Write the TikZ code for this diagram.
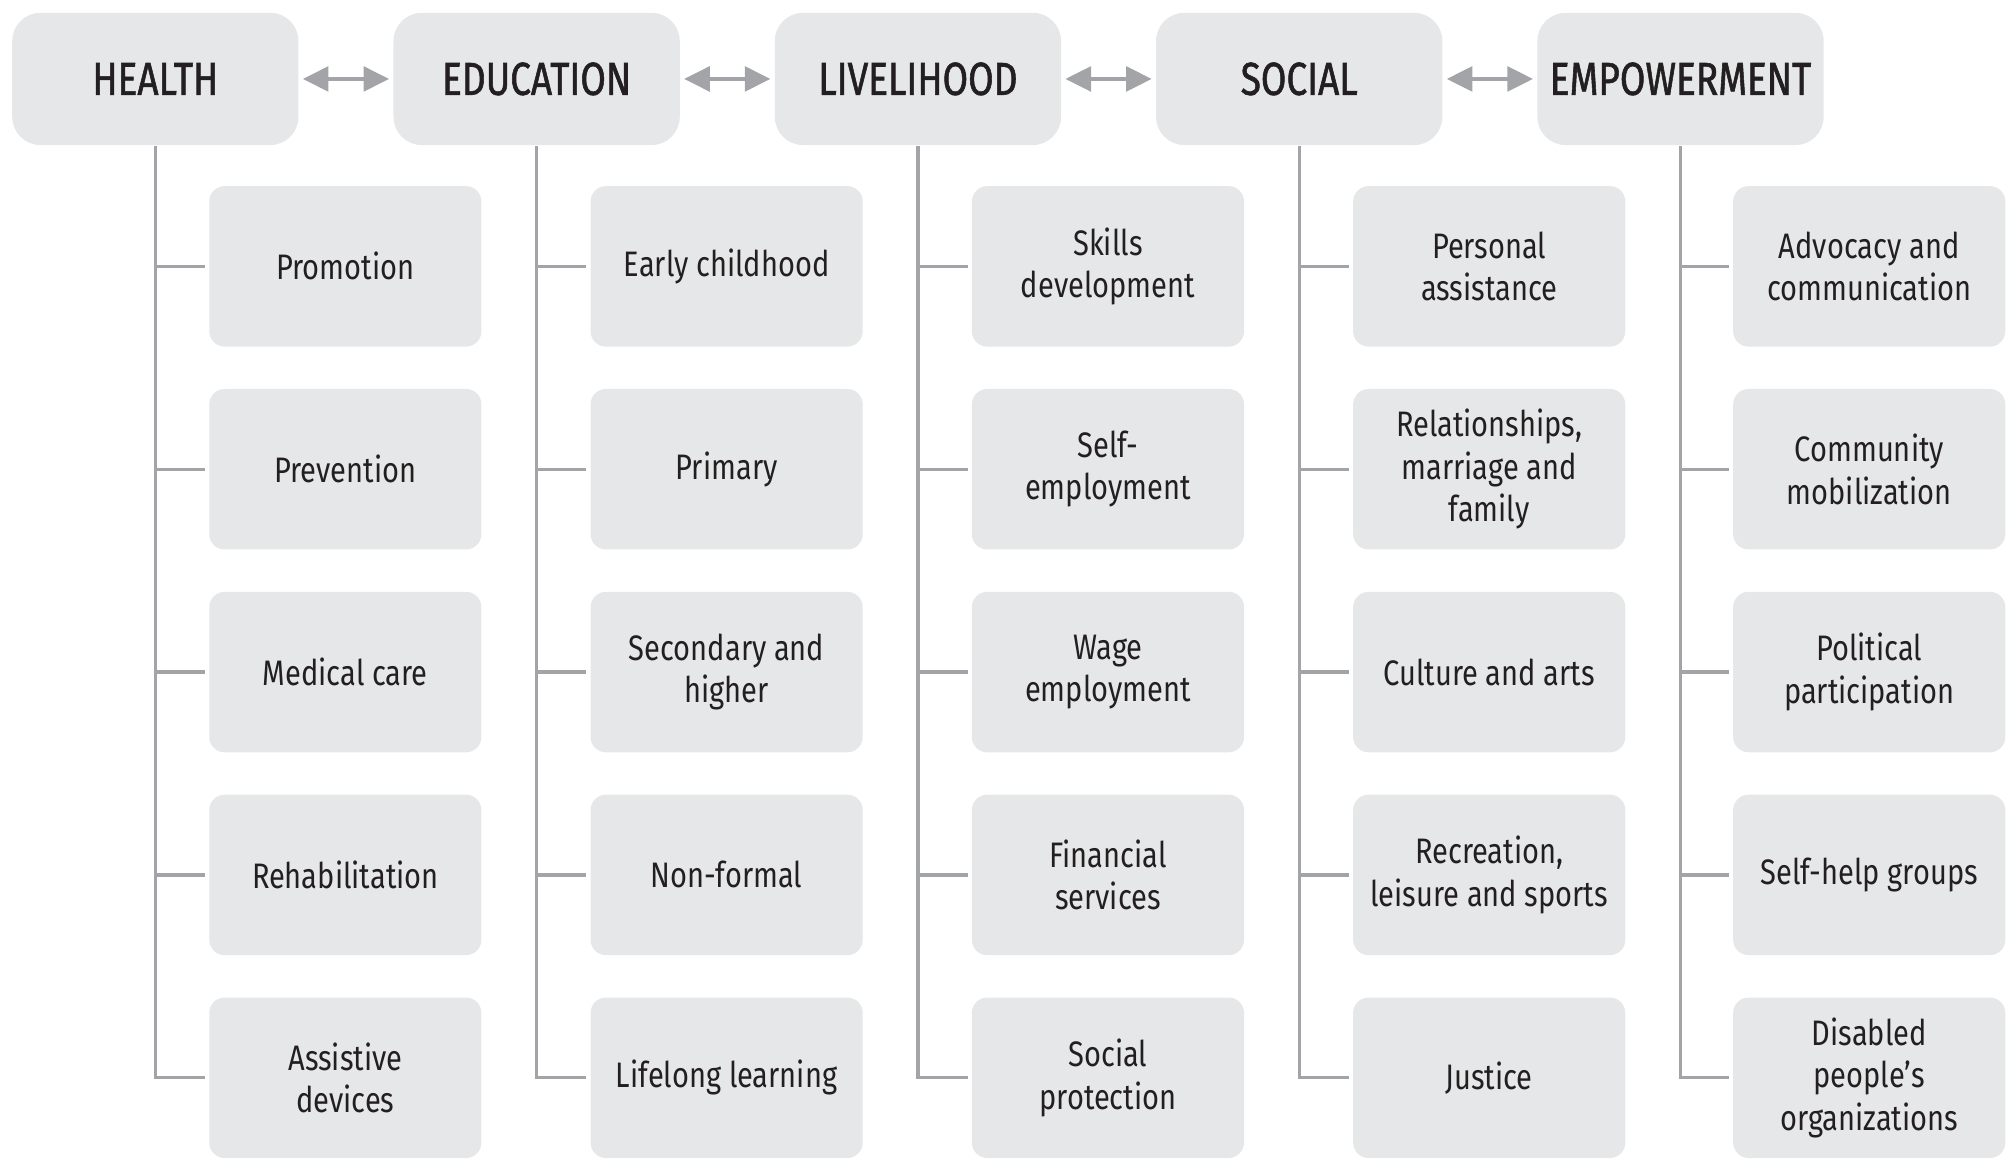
\documentclass[tikz,border=0pt]{standalone}
\usepackage{fontspec}
\setmainfont[FakeStretch=0.82]{Fira Sans}
\newfontfamily\headfont[FakeStretch=0.8,FakeBold=1.2]{Fira Sans}
\usepackage{tikz}
\usetikzlibrary{arrows.meta}
\definecolor{boxgray}{HTML}{E6E7E8}
\definecolor{linegray}{HTML}{A3A4A7}
\definecolor{txtdark}{HTML}{231F20}

\begin{document}
\begin{tikzpicture}[
  topbox/.style={fill=boxgray,rounded corners=0.44cm,minimum width=4.46cm,minimum height=2.06cm,
    text=txtdark,font=\headfont\fontsize{20.5}{24}\selectfont,inner sep=0pt},
  subbox/.style={fill=boxgray,rounded corners=0.24cm,minimum width=4.24cm,minimum height=2.5cm,
    text=txtdark,font=\fontsize{15.7}{18.8}\selectfont,align=center,inner sep=0pt},
  twoway/.style={linegray,line width=2pt,{Triangle[length=0.4cm,width=0.38cm]}-{Triangle[length=0.4cm,width=0.38cm]},shorten <=0.06cm,shorten >=0.06cm},
  branch/.style={linegray,line width=1.5pt,shorten >=0.06cm}]
\useasboundingbox (0,0) rectangle (31.36,18.06);
% top row
\node[topbox] (health) at (2.42,16.83) {HEALTH};
\node[topbox] (educ) at (8.36,16.83) {EDUCATION};
\node[topbox] (live) at (14.30,16.83) {LIVELIHOOD};
\node[topbox] (social) at (20.24,16.83) {SOCIAL};
\node[topbox] (empow) at (26.18,16.83) {EMPOWERMENT};
\draw[twoway] (health) -- (educ);
\draw[twoway] (educ) -- (live);
\draw[twoway] (live) -- (social);
\draw[twoway] (social) -- (empow);
% health
\node[subbox] (h1) at (5.38,13.91) {Promotion};
\node[subbox] (h2) at (5.38,10.75) {Prevention};
\node[subbox] (h3) at (5.38,7.59) {Medical care};
\node[subbox] (h4) at (5.38,4.43) {Rehabilitation};
\node[subbox] (h5) at (5.38,1.27) {Assistive\\devices};
% education
\node[subbox] (e1) at (11.32,13.91) {Early childhood};
\node[subbox] (e2) at (11.32,10.75) {Primary};
\node[subbox] (e3) at (11.32,7.59) {Secondary and\\higher};
\node[subbox] (e4) at (11.32,4.43) {Non-formal};
\node[subbox] (e5) at (11.32,1.27) {Lifelong learning};
% livelihood
\node[subbox] (l1) at (17.26,13.91) {Skills\\development};
\node[subbox] (l2) at (17.26,10.75) {Self-\\employment};
\node[subbox] (l3) at (17.26,7.59) {Wage\\employment};
\node[subbox] (l4) at (17.26,4.43) {Financial\\services};
\node[subbox] (l5) at (17.26,1.27) {Social\\protection};
% social
\node[subbox] (s1) at (23.20,13.91) {Personal\\assistance};
\node[subbox] (s2) at (23.20,10.75) {Relationships,\\marriage and\\family};
\node[subbox] (s3) at (23.20,7.59) {Culture and arts};
\node[subbox] (s4) at (23.20,4.43) {Recreation,\\leisure and sports};
\node[subbox] (s5) at (23.20,1.27) {Justice};
% empowerment
\node[subbox] (m1) at (29.12,13.91) {Advocacy and\\communication};
\node[subbox] (m2) at (29.12,10.75) {Community\\mobilization};
\node[subbox] (m3) at (29.12,7.59) {Political\\participation};
\node[subbox] (m4) at (29.12,4.43) {Self-help groups};
\node[subbox] (m5) at (29.12,1.27) {Disabled\\people’s\\organizations};
% branches
\draw[branch] (health.south) |- (h5.west);
\draw[branch] (health.south |- h1.west) -- (h1.west);
\draw[branch] (health.south |- h2.west) -- (h2.west);
\draw[branch] (health.south |- h3.west) -- (h3.west);
\draw[branch] (health.south |- h4.west) -- (h4.west);
\draw[branch] (educ.south) |- (e5.west);
\draw[branch] (educ.south |- e1.west) -- (e1.west);
\draw[branch] (educ.south |- e2.west) -- (e2.west);
\draw[branch] (educ.south |- e3.west) -- (e3.west);
\draw[branch] (educ.south |- e4.west) -- (e4.west);
\draw[branch] (live.south) |- (l5.west);
\draw[branch] (live.south |- l1.west) -- (l1.west);
\draw[branch] (live.south |- l2.west) -- (l2.west);
\draw[branch] (live.south |- l3.west) -- (l3.west);
\draw[branch] (live.south |- l4.west) -- (l4.west);
\draw[branch] (social.south) |- (s5.west);
\draw[branch] (social.south |- s1.west) -- (s1.west);
\draw[branch] (social.south |- s2.west) -- (s2.west);
\draw[branch] (social.south |- s3.west) -- (s3.west);
\draw[branch] (social.south |- s4.west) -- (s4.west);
\draw[branch] (empow.south) |- (m5.west);
\draw[branch] (empow.south |- m1.west) -- (m1.west);
\draw[branch] (empow.south |- m2.west) -- (m2.west);
\draw[branch] (empow.south |- m3.west) -- (m3.west);
\draw[branch] (empow.south |- m4.west) -- (m4.west);
\end{tikzpicture}
\end{document}
